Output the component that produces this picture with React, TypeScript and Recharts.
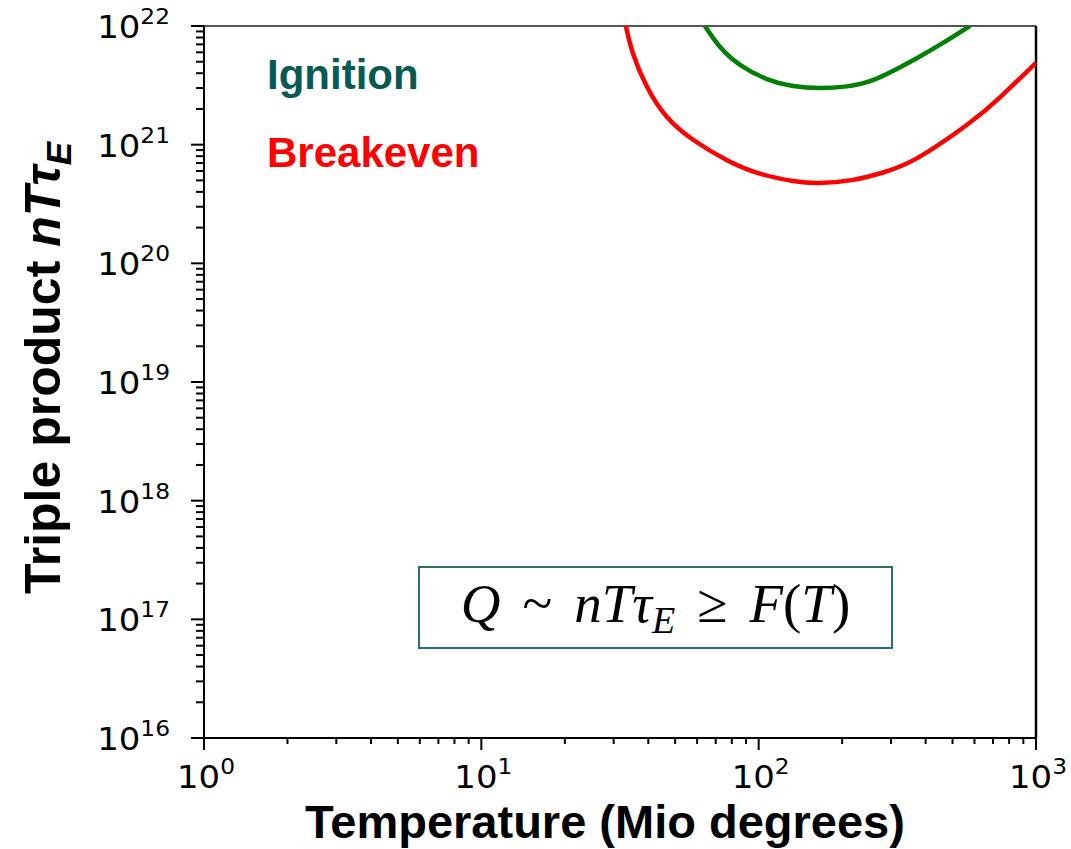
import React from 'react';
import { LineChart, Line, XAxis, YAxis, ReferenceLine } from 'recharts';

// temperature (Mio degrees) and triple product
const breakevenT = [33.2, 35.2, 39.6, 46.7, 58, 76.9, 101, 133, 166, 219, 281, 373, 564, 743, 1000];
const breakevenQ = [1e22, 5.9e21, 3.06e21, 1.71e21, 1.1e21, 7.4e20, 5.7e20, 4.94e20, 4.75e20, 5.05e20, 5.83e20, 7.7e20, 1.47e21, 2.52e21, 4.9e21];

const ignitionT = [64, 72.6, 85.7, 107, 133, 166, 208, 258, 324, 373, 462, 578];
const ignitionQ = [1e22, 6.65e21, 4.7e21, 3.57e21, 3.12e21, 3.0e21, 3.1e21, 3.5e21, 4.5e21, 5.37e21, 7.2e21, 1e22];

const xMajor = [1, 10, 100, 1000];
const yMajor = [1e16, 1e17, 1e18, 1e19, 1e20, 1e21, 1e22];

const minorOf = (majors: number[]) => {
  const out: number[] = [];
  majors.slice(0, -1).forEach(m => {
    for (let k = 1; k <= 9; k++) out.push(m * k);
  });
  out.push(majors[majors.length - 1]);
  return out;
};

const xTicks = minorOf(xMajor);
const yTicks = minorOf(yMajor);

const breakevenData = breakevenT.map((t, i) => ({ t, v: breakevenQ[i] }));
const ignitionData = ignitionT.map((t, i) => ({ t, v: ignitionQ[i] }));

const isMajor = (v: number) => {
  const l = Math.log10(v);
  return Math.abs(l - Math.round(l)) < 1e-6;
};

const tickFont = "'DejaVu Sans', sans-serif";
const sansBold = "'Liberation Sans', Arial, sans-serif";

const PowerLabel = ({ value, anchor }: { value: number; anchor: 'middle' | 'end' }) => (
  <text textAnchor={anchor} fontFamily={tickFont} fontSize={32} fill="#000">
    <tspan>10</tspan>
    <tspan dy={-14} fontSize={22}>{Math.round(Math.log10(value))}</tspan>
  </text>
);

const XTick = (props: any) => {
  const { x, y, payload } = props;
  const major = isMajor(payload.value);
  return (
    <g>
      <line x1={x} x2={x} y1={y} y2={y + (major ? 12 : 6)} stroke="#000" strokeWidth={2} />
      {major && (
        <g transform={`translate(${x + 2},${y + 50}) scale(1.06,1)`}>
          <PowerLabel value={payload.value} anchor="middle" />
        </g>
      )}
    </g>
  );
};

const YTick = (props: any) => {
  const { x, y, payload } = props;
  const major = isMajor(payload.value);
  return (
    <g>
      <line x1={x - (major ? 13 : 8)} x2={x} y1={y} y2={y} stroke="#000" strokeWidth={2} />
      {major && (
        <g transform={`translate(${x - 34},${y + 12}) scale(1.06,1)`}>
          <PowerLabel value={payload.value} anchor="end" />
        </g>
      )}
    </g>
  );
};

const YTitle = () => (
  <text
    transform="translate(60,368) rotate(-90)"
    textAnchor="middle"
    fontFamily={sansBold}
    fontWeight="bold"
    fontSize={50}
    fill="#000"
  >
    <tspan>Triple product </tspan>
    <tspan fontStyle="italic">nTτ</tspan>
    <tspan fontStyle="italic" fontSize={35} dy={11}>E</tspan>
  </text>
);

const XTitle = () => (
  <text x={605} y={838} textAnchor="middle" fontFamily={sansBold} fontWeight="bold" fontSize={47} fill="#000">
    Temperature (Mio degrees)
  </text>
);

const gap = { display: 'inline-block', width: 22 };

export default function App() {
  return (
    <div style={{ position: 'absolute', left: 0, top: 0, width: 1071, height: 849, background: '#fff' }}>
      <LineChart width={1071} height={849} margin={{ top: 26, right: 35, left: 0, bottom: 0 }}>
        <XAxis
          dataKey="t"
          type="number"
          scale="log"
          domain={[1, 1000]}
          ticks={xTicks}
          interval={0}
          allowDataOverflow
          height={111}
          tickSize={0}
          tickMargin={0}
          tickLine={false}
          tick={<XTick />}
          axisLine={{ stroke: '#000', strokeWidth: 2 }}
          label={<XTitle />}
        />
        <YAxis
          dataKey="v"
          type="number"
          scale="log"
          domain={[1e16, 1e22]}
          ticks={yTicks}
          interval={0}
          allowDataOverflow
          width={204}
          tickSize={0}
          tickMargin={0}
          tickLine={false}
          tick={<YTick />}
          axisLine={{ stroke: '#000', strokeWidth: 2 }}
          label={<YTitle />}
        />
        <ReferenceLine y={1e22} stroke="#555" strokeWidth={2} />
        <ReferenceLine x={1000} stroke="#000" strokeWidth={2.5} />
        <Line
          data={breakevenData}
          dataKey="v"
          type="natural"
          stroke="#ff0000"
          strokeWidth={4.5}
          dot={false}
          isAnimationActive={false}
        />
        <Line
          data={ignitionData}
          dataKey="v"
          type="natural"
          stroke="#008000"
          strokeWidth={4.5}
          dot={false}
          isAnimationActive={false}
        />
      </LineChart>
      <div style={{ position: 'absolute', left: 267, top: 54, fontFamily: sansBold, fontWeight: 'bold', fontSize: 42, color: '#065a54', lineHeight: 1 }}>
        Ignition
      </div>
      <div style={{ position: 'absolute', left: 267, top: 132, fontFamily: sansBold, fontWeight: 'bold', fontSize: 42, color: '#ff0000', lineHeight: 1 }}>
        Breakeven
      </div>
      <div style={{ position: 'absolute', left: 418, top: 566, width: 471, height: 79, border: '2px solid #2f6f6a', background: '#fff', display: 'flex', alignItems: 'center', justifyContent: 'center', fontFamily: "'Liberation Serif', serif", fontSize: 55, color: '#000', lineHeight: 1 }}>
        <span>
          <i>Q</i><span style={gap} />~<span style={gap} /><i>nTτ</i><sub style={{ fontSize: 38, verticalAlign: '-0.3em' }}><i>E</i></sub><span style={gap} />≥<span style={gap} /><i>F</i>(<i>T</i>)
        </span>
      </div>
    </div>
  );
}
